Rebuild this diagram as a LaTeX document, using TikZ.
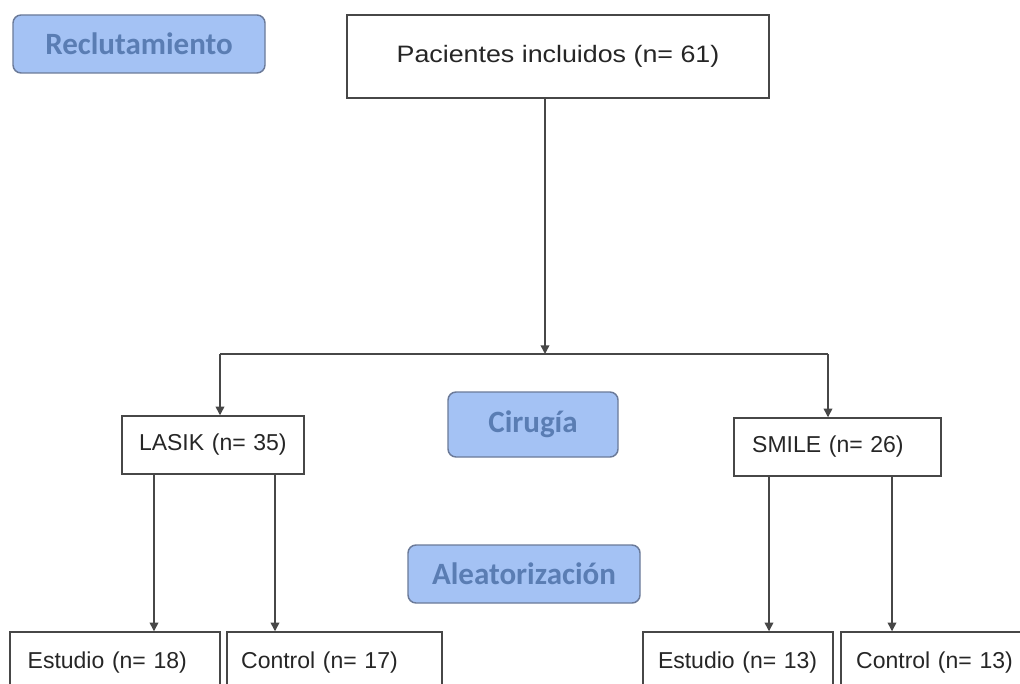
\documentclass[tikz,border=0pt]{standalone}
\usepackage{fontspec}
\setmainfont{Liberation Sans}
\newfontfamily\widefont[FakeStretch=1.13]{Liberation Sans}
\newfontfamily\labfont{Carlito}
\usetikzlibrary{arrows.meta}
\definecolor{lblue}{HTML}{A4C2F4}
\definecolor{lborder}{HTML}{6B7A99}
\definecolor{ltext}{HTML}{5A7DB3}
\definecolor{lineg}{HTML}{474747}
\tikzset{
  wbox/.style={draw=lineg, line width=1.1pt, fill=white, rectangle, inner sep=0pt,
    font=\fontsize{17.25}{20}\selectfont, text=black!85},
  lbox/.style={draw=lborder, line width=1.1pt, fill=lblue, rounded corners=6pt, inner sep=0pt,
    font=\labfont\bfseries\fontsize{23.25}{26}\selectfont, text=ltext},
  conn/.style={draw=lineg, line width=1.1pt},
  arr/.style={conn, -{Triangle[length=6.5pt,width=6.5pt]}},
}
\begin{document}
\begin{tikzpicture}[x=0.75pt,y=-0.75pt]
\useasboundingbox (0,0) rectangle (1020,684);
\clip (0,0) rectangle (1020,684);
\fill[white] (0,0) rectangle (1020,684);
% label boxes
\node[lbox, minimum width=189pt, minimum height=43.5pt] (rec) at (139,44) {Reclutamiento};
\node[lbox, minimum width=127.5pt, minimum height=48.75pt] (cir) at (533,424.5) {Cirugía};
\node[lbox, minimum width=174pt, minimum height=43.5pt] (ale) at (524,574) {Aleatorización};
% flow boxes
\node[wbox, minimum width=316.5pt, minimum height=62.25pt] (pac) at (558,56.5) {\widefont\fontsize{17.8}{21}\selectfont Pacientes incluidos (n= 61)};
\node[wbox, minimum width=136.5pt, minimum height=43.5pt, text width=111pt, align=left] (lasik) at (213,445) {LASIK (n= 35)};
\node[wbox, minimum width=155.25pt, minimum height=43.5pt, text width=128pt, align=left] (smile) at (837.5,447) {SMILE (n= 26)};
\node[wbox, minimum width=157.5pt, minimum height=46.5pt, text width=131pt, align=left] (e18) at (115,663) {Estudio (n= 18)};
\node[wbox, minimum width=161.25pt, minimum height=46.5pt, text width=140pt, align=left] (c17) at (334.5,663) {Control (n= 17)};
\node[wbox, minimum width=142.5pt, minimum height=46.5pt, text width=120pt, align=left] (e13) at (738,663) {Estudio (n= 13)};
\node[wbox, minimum width=141.75pt, minimum height=46.5pt, text width=119pt, align=left] (c13) at (935.5,663) {Control (n= 13)};
% connectors
\coordinate (split) at (545,354);
\coordinate (hl) at (220,354);
\coordinate (hr) at (828,354);
\coordinate (x1) at (154,0);
\coordinate (x2) at (275,0);
\coordinate (x3) at (769,0);
\coordinate (x4) at (892,0);
\draw[arr] (pac.south -| split) -- (split);
\draw[conn] (hl) -- (hr);
\draw[arr] (hl) -- (hl |- lasik.north);
\draw[arr] (hr) -- (hr |- smile.north);
\draw[arr] (lasik.south -| x1) -- (e18.north -| x1);
\draw[arr] (lasik.south -| x2) -- (c17.north -| x2);
\draw[arr] (smile.south -| x3) -- (e13.north -| x3);
\draw[arr] (smile.south -| x4) -- (c13.north -| x4);
\end{tikzpicture}
\end{document}
